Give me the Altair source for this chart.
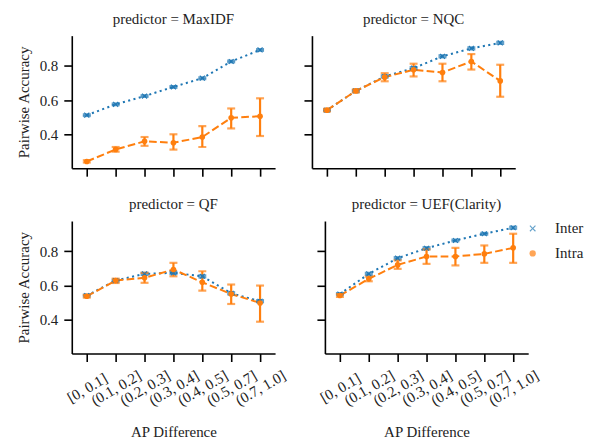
import altair as alt
import pandas as pd

categories = ["[0, 0.1]", "(0.1, 0.2]", "(0.2, 0.3]", "(0.3, 0.4]",
              "(0.4, 0.5]", "(0.5, 0.7]", "(0.7, 1.0]"]
predictors = ["MaxIDF", "NQC", "QF", "UEF(Clarity)"]
series = ["Inter", "Intra"]

# Inter (mean, small CI half-width)
inter_mean = {
    "MaxIDF": [0.513, 0.576, 0.624, 0.677, 0.728, 0.825, 0.892],
    "NQC": [0.542, 0.654, 0.738, 0.786, 0.855, 0.901, 0.933],
    "QF": [0.542, 0.629, 0.668, 0.674, 0.654, 0.555, 0.509],
    "UEF(Clarity)": [0.551, 0.668, 0.759, 0.817, 0.862, 0.901, 0.936],
}
inter_half = {
    "MaxIDF": [0.005, 0.005, 0.005, 0.005, 0.005, 0.005, 0.005],
    "NQC": [0.005, 0.005, 0.006, 0.006, 0.006, 0.006, 0.006],
    "QF": [0.005, 0.005, 0.006, 0.006, 0.006, 0.006, 0.006],
    "UEF(Clarity)": [0.005, 0.006, 0.006, 0.006, 0.005, 0.005, 0.006],
}
# Intra (mean, CI low, CI high)
intra_mean = {
    "MaxIDF": [0.244, 0.314, 0.361, 0.353, 0.386, 0.498, 0.507],
    "NQC": [0.542, 0.654, 0.734, 0.777, 0.761, 0.825, 0.712],
    "QF": [0.538, 0.629, 0.645, 0.693, 0.619, 0.551, 0.499],
    "UEF(Clarity)": [0.542, 0.639, 0.720, 0.769, 0.769, 0.784, 0.819],
}
intra_lo = {
    "MaxIDF": [0.238, 0.301, 0.335, 0.313, 0.328, 0.436, 0.392],
    "NQC": [0.535, 0.645, 0.710, 0.738, 0.710, 0.778, 0.620],
    "QF": [0.530, 0.615, 0.616, 0.654, 0.571, 0.493, 0.390],
    "UEF(Clarity)": [0.534, 0.625, 0.697, 0.726, 0.717, 0.732, 0.732],
}
intra_hi = {
    "MaxIDF": [0.251, 0.328, 0.386, 0.402, 0.449, 0.552, 0.611],
    "NQC": [0.550, 0.663, 0.757, 0.812, 0.812, 0.868, 0.806],
    "QF": [0.546, 0.640, 0.674, 0.732, 0.683, 0.606, 0.600],
    "UEF(Clarity)": [0.550, 0.652, 0.746, 0.810, 0.819, 0.833, 0.901],
}

rows = []
for p in predictors:
    for i, c in enumerate(categories):
        m = inter_mean[p][i]
        h = inter_half[p][i]
        rows.append(dict(predictor=p, bin=c, series="Inter", mean=m, lo=m - h, hi=m + h))
    for i, c in enumerate(categories):
        rows.append(dict(predictor=p, bin=c, series="Intra", mean=intra_mean[p][i],
                         lo=intra_lo[p][i], hi=intra_hi[p][i]))
df = pd.DataFrame(rows)

COLORS = ["#1f77b4", "#ff7f0e"]
FONT = "Liberation Serif"
# filled "x" marker outline
XPATH = ("M-1,-0.75L-0.75,-1L0,-0.25L0.75,-1L1,-0.75L0.25,0L1,0.75L0.75,1"
         "L0,0.25L-0.75,1L-1,0.75L-0.25,0Z")

color_scale = alt.Scale(domain=series, range=COLORS)
shape_scale = alt.Scale(domain=series, range=[XPATH, "circle"])
ydom = [0.205, 0.975]


def panel(pred, show_x, show_y, show_legend=False):
    d = df[df.predictor == pred]
    xax = alt.Axis(labels=show_x, title="AP Difference" if show_x else None,
                   labelAngle=-30, labelAlign="center", labelBaseline="middle",
                   labelPadding=26, titlePadding=17)
    yax = alt.Axis(labels=show_y, title="Pairwise Accuracy" if show_y else None,
                   values=[0.4, 0.6, 0.8], format=".1f", titlePadding=8)
    x = alt.X("bin:N", sort=categories, scale=alt.Scale(type="point", padding=0.52), axis=xax)
    ysc = alt.Scale(domain=ydom, nice=False, zero=False)
    if show_legend:
        leg = alt.Legend(title=None, orient="none", legendX=201, legendY=0, padding=0,
                         labelFont=FONT, labelFontSize=15, labelColor="#222",
                         symbolSize=40, symbolStrokeWidth=0, symbolOpacity=1,
                         rowPadding=9, labelOffset=15)
        col = alt.Color("series:N", scale=color_scale)
    else:
        leg = None
        col = alt.Color("series:N", scale=color_scale, legend=None)
    base = alt.Chart(d)
    line = base.mark_line(strokeWidth=2).encode(
        x=x,
        y=alt.Y("mean:Q", scale=ysc, axis=yax),
        color=col,
        strokeDash=alt.StrokeDash("series:N", scale=alt.Scale(domain=series, range=[[2.1, 3.4], [7.7, 3.3]]), legend=None),
    )
    rule = base.mark_rule(strokeWidth=2.2).encode(
        x=x, y=alt.Y("lo:Q", scale=ysc), y2="hi:Q", color=col,
    )
    tlo = base.mark_tick(size=8, thickness=2.2).encode(
        x=x, y=alt.Y("lo:Q", scale=ysc), color=col,
    )
    thi = base.mark_tick(size=8, thickness=2.2).encode(
        x=x, y=alt.Y("hi:Q", scale=ysc), color=col,
    )
    pts = base.mark_point(filled=True, opacity=1, size=32).encode(
        x=x, y=alt.Y("mean:Q", scale=ysc),
        color=alt.Color("series:N", scale=color_scale, legend=leg),
        shape=alt.Shape("series:N", scale=shape_scale, legend=leg),
    )
    return alt.layer(line, rule, tlo, thi, pts).properties(
        width=204, height=133,
        title=alt.TitleParams(f"predictor = {pred}", fontSize=15, font=FONT,
                              fontWeight="normal", color="#222", offset=9),
    )


top = alt.hconcat(panel("MaxIDF", False, True), panel("NQC", False, False), spacing=28)
bot = alt.hconcat(panel("QF", True, True), panel("UEF(Clarity)", True, False, True),
                  spacing=28).resolve_legend(color="independent", shape="independent")
chart = alt.vconcat(top, bot, spacing=20).resolve_legend(
    color="independent", shape="independent"
).properties(
    padding={"left": 8, "top": 3, "right": 0, "bottom": 0}
).configure_view(stroke=None).configure_axis(
    grid=False, domainColor="black", domainWidth=1.6, tickColor="black", tickWidth=1.6,
    tickSize=8, labelFont=FONT, labelFontSize=15, labelColor="#222",
    titleFont=FONT, titleFontSize=15, titleFontWeight="normal", titleColor="#222",
    labelPadding=6,
)

chart.save("out.html", embed_options={"renderer": "svg", "actions": False})
